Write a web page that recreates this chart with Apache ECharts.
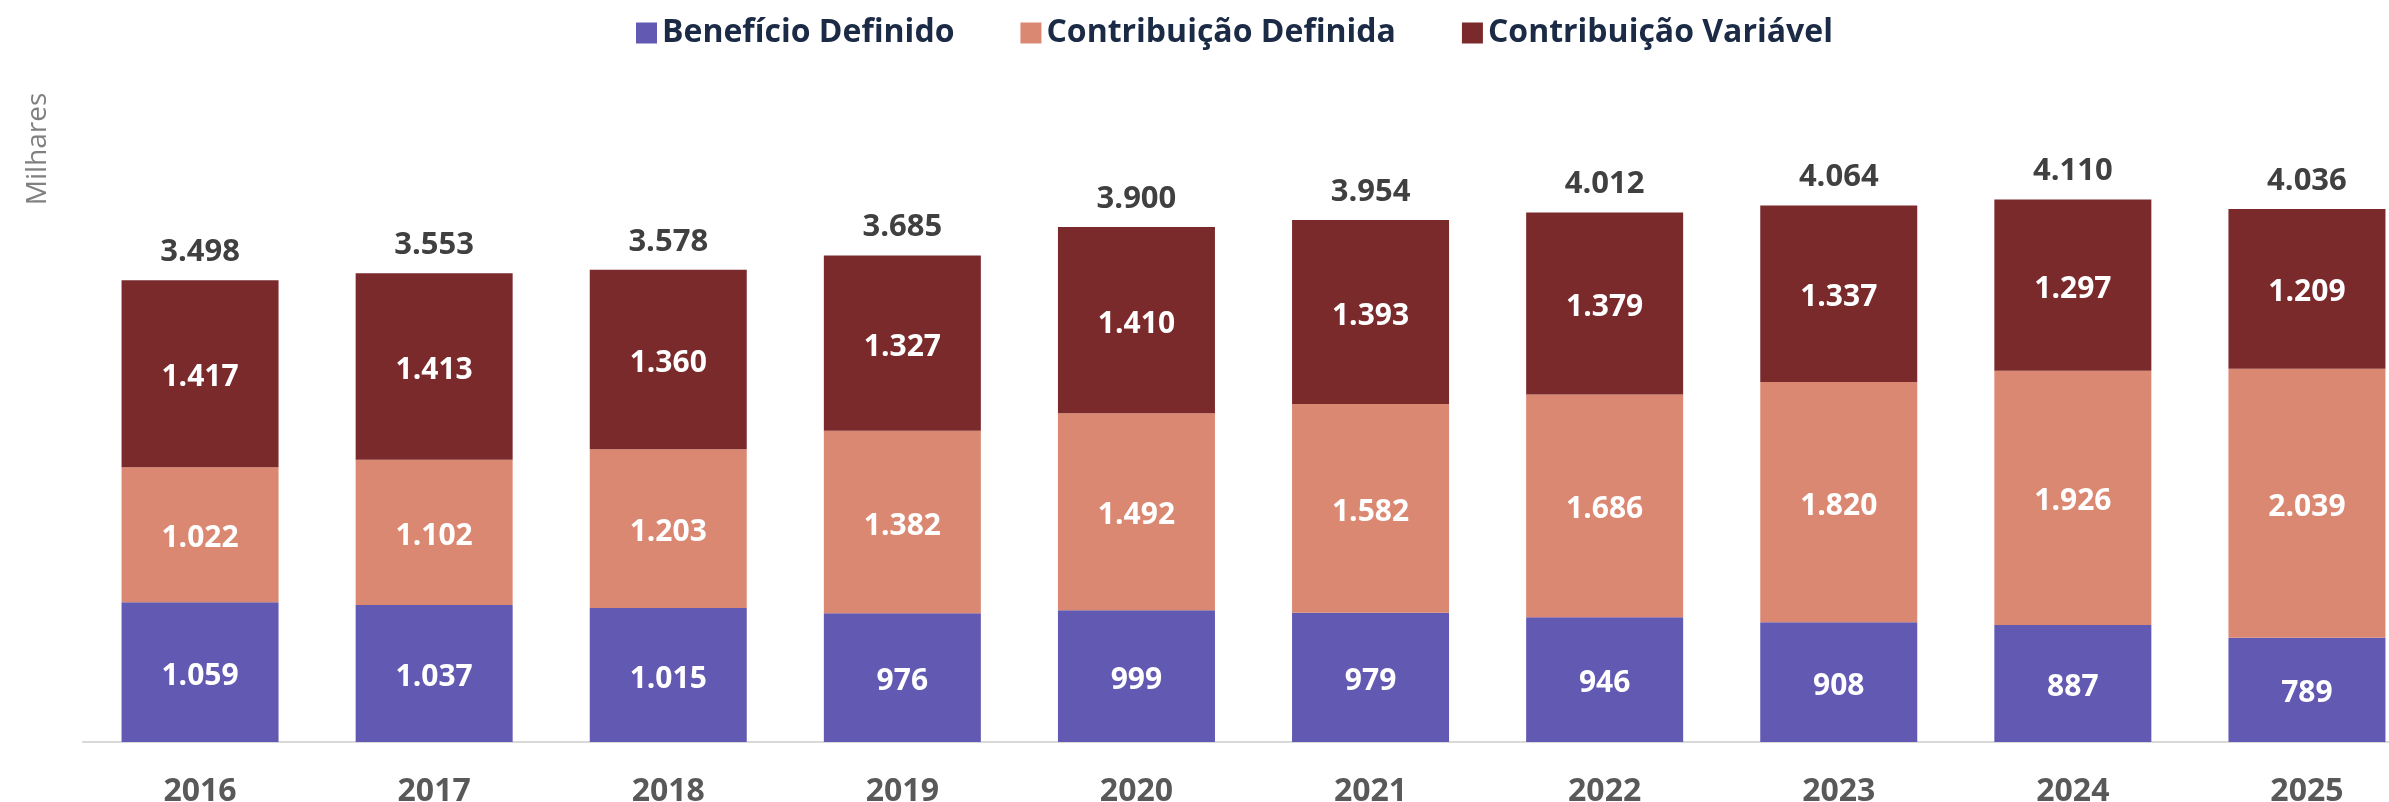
<!DOCTYPE html>
<html>
<head>
<meta charset="utf-8">
<script src="https://cdn.jsdelivr.net/npm/echarts@6/dist/echarts.min.js"></script>
<style>
  html, body { margin: 0; padding: 0; background: #fff; }
  #chart { width: 2389px; height: 802px; }
</style>
</head>
<body>
<div id="chart"></div>
<script>
var years = ['2016', '2017', '2018', '2019', '2020', '2021', '2022', '2023', '2024', '2025'];
var beneficioDefinido = [1059, 1037, 1015, 976, 999, 979, 946, 908, 887, 789];
var contribuicaoDefinida = [1022, 1102, 1203, 1382, 1492, 1582, 1686, 1820, 1926, 2039];
var contribuicaoVariavel = [1417, 1413, 1360, 1327, 1410, 1393, 1379, 1337, 1297, 1209];
var totals = [3498, 3553, 3578, 3685, 3900, 3954, 4012, 4064, 4110, 4036];

var font = 'Open Sans';

function fmt(v) {
    return String(v).replace(/\B(?=(\d{3})+(?!\d))/g, '.');
}

function barSeries(name, data, color) {
    return {
        name: name,
        type: 'bar',
        stack: 'total',
        barWidth: 157,
        data: data,
        itemStyle: { color: color },
        label: {
            show: true,
            position: 'inside',
            offset: [0, 4],
            color: '#ffffff',
            fontFamily: font,
            fontWeight: 'bold',
            fontSize: 30,
            formatter: function (p) { return fmt(p.value); }
        }
    };
}

var option = {
    animation: false,
    backgroundColor: '#ffffff',
    legend: {
        data: ['Benefício Definido', 'Contribuição Definida', 'Contribuição Variável'],
        left: 631,
        top: 12,
        itemWidth: 21,
        itemHeight: 21,
        itemGap: 66,
        icon: 'rect',
        textStyle: {
            fontFamily: font,
            fontWeight: 'bold',
            fontSize: 32,
            color: '#1b2a45'
        }
    },
    grid: {
        left: 83,
        right: -35,
        top: 82,
        bottom: 60,
        outerBoundsMode: 'none'
    },
    xAxis: {
        type: 'category',
        data: years,
        axisLine: { lineStyle: { color: '#d9d9d9', width: 2 } },
        axisTick: { show: false },
        axisLabel: {
            margin: 34,
            fontFamily: font,
            fontWeight: 'bold',
            fontSize: 32,
            color: '#595959'
        }
    },
    yAxis: {
        type: 'value',
        min: 0,
        max: 5000,
        axisLine: { show: false },
        axisTick: { show: false },
        axisLabel: { show: false },
        splitLine: { show: false }
    },
    graphic: [{
        type: 'text',
        x: 38,
        y: 149,
        rotation: Math.PI / 2,
        style: {
            text: 'Milhares',
            fill: '#808080',
            font: '28px "Open Sans"',
            textAlign: 'center',
            textVerticalAlign: 'middle'
        }
    }],
    series: [
        barSeries('Benefício Definido', beneficioDefinido, '#6159b2'),
        barSeries('Contribuição Definida', contribuicaoDefinida, '#db8873'),
        barSeries('Contribuição Variável', contribuicaoVariavel, '#7b2a2c'),
        {
            name: 'Total',
            type: 'line',
            data: totals,
            symbol: 'circle',
            symbolSize: 1,
            showSymbol: true,
            itemStyle: { color: 'rgba(0,0,0,0)' },
            lineStyle: { width: 0, color: 'rgba(0,0,0,0)' },
            label: {
                show: true,
                position: 'top',
                distance: 12,
                color: '#404040',
                fontFamily: font,
                fontWeight: 'bold',
                fontSize: 31,
                formatter: function (p) { return fmt(p.value); }
            },
            z: 5
        }
    ]
};

var chart = echarts.init(document.getElementById('chart'));
chart.setOption(option);
</script>
</body>
</html>
